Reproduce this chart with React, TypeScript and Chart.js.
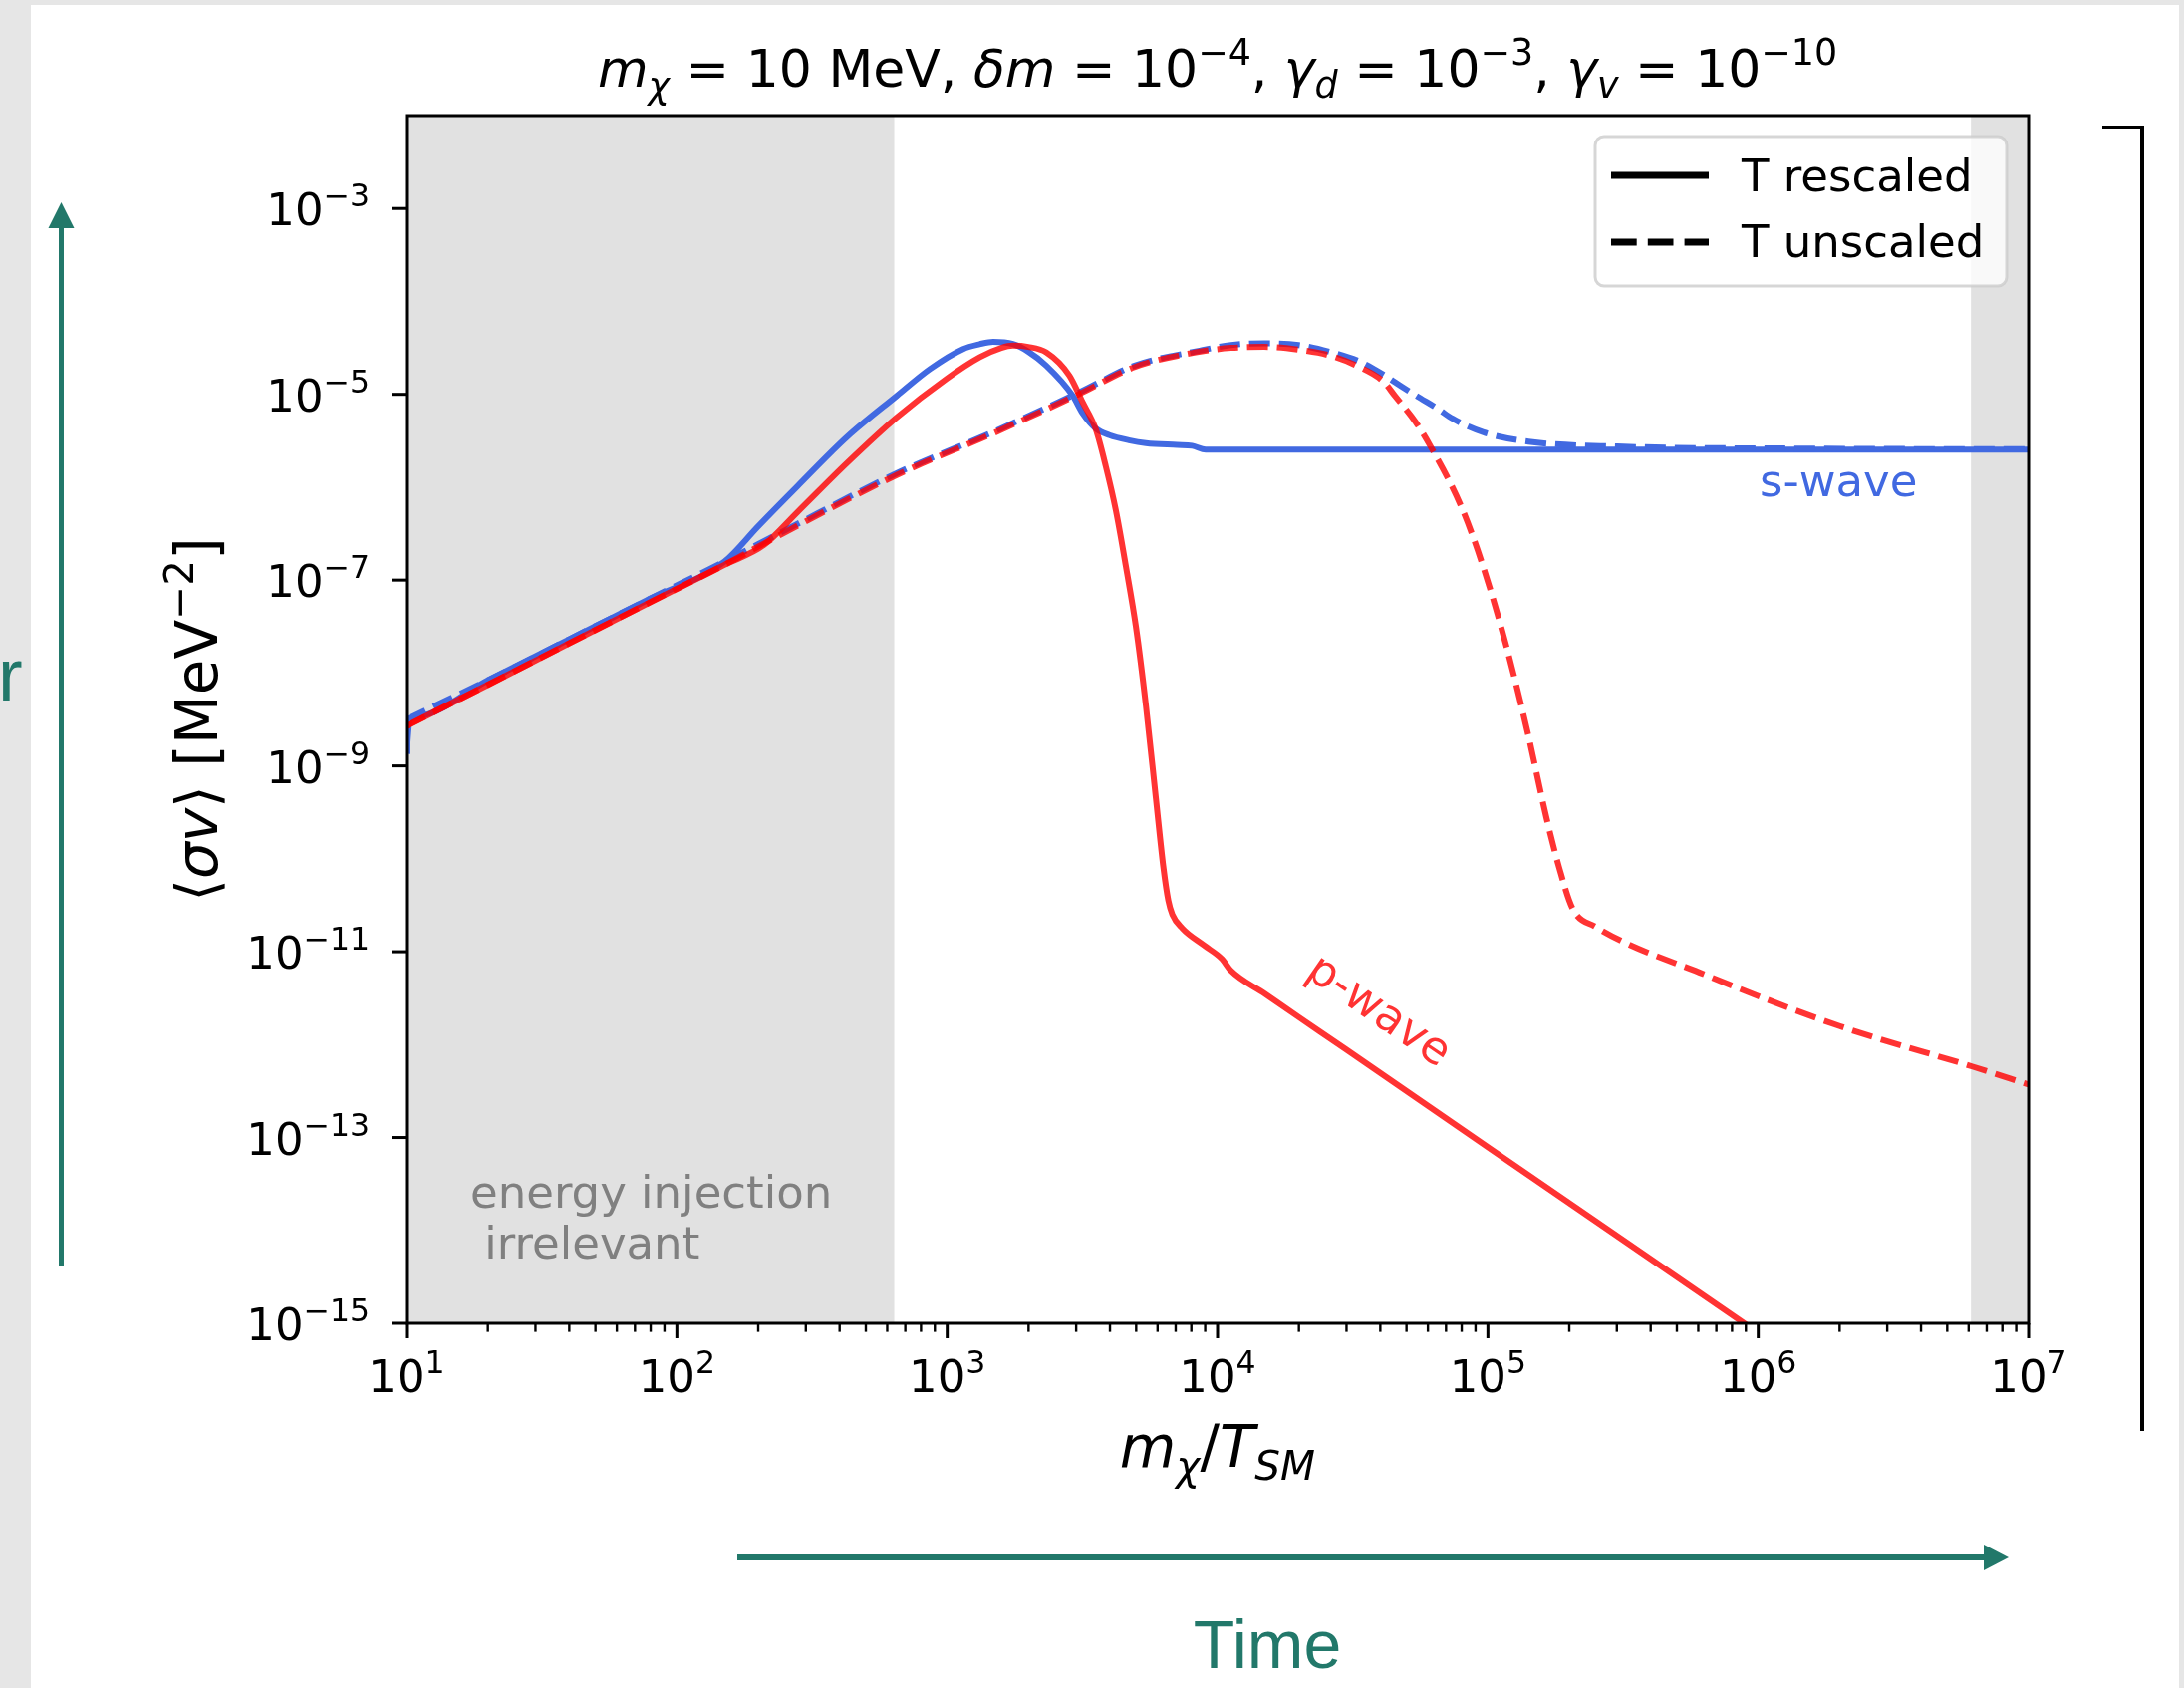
import React, { useEffect, useRef } from "react";
import { Chart, registerables } from "chart.js";

Chart.register(...registerables);

// ---------------- data ----------------
// s-wave, T rescaled (solid blue)
const sRescaledX = [10, 10.3, 11, 20, 39.8, 79.4, 150, 200, 279, 426, 650, 863, 1146, 1318, 1479, 1750, 1995, 2323, 2911, 3162, 3548, 3981, 4699, 5433, 7079, 8054, 9036, 1e5, 1e6, 1e7];
const sRescaledY = [1.35e-9, 3.16e-9, 3.4e-9, 8.34e-9, 2.29e-8, 6.28e-8, 1.58e-7, 3.8e-7, 1.02e-6, 3.47e-6, 9.6e-6, 1.87e-5, 3.08e-5, 3.47e-5, 3.68e-5, 3.48e-5, 2.88e-5, 2.04e-5, 9.7e-6, 6.31e-6, 4.27e-6, 3.63e-6, 3.2e-6, 2.98e-6, 2.85e-6, 2.79e-6, 2.54e-6, 2.54e-6, 2.54e-6, 2.54e-6];

// s-wave, T unscaled (dashed blue)
const sUnscaledX = [10, 20, 39.8, 79.4, 150, 242, 650, 1521, 3083, 4943, 8590, 11220, 14890, 19950, 25880, 33110, 41210, 48870, 56230, 65310, 74130, 96390, 141300, 300600, 1.585e6, 1e7];
const sUnscaledY = [3.16e-9, 8.34e-9, 2.29e-8, 6.28e-8, 1.58e-7, 3.24e-7, 1.41e-6, 4.07e-6, 1.05e-5, 2.04e-5, 2.95e-5, 3.39e-5, 3.55e-5, 3.39e-5, 2.88e-5, 2.29e-5, 1.62e-5, 1.17e-5, 9.1e-6, 6.98e-6, 5.46e-6, 3.89e-6, 3.09e-6, 2.74e-6, 2.6e-6, 2.56e-6];

// p-wave, T rescaled (solid red)
const pRescaledX = [10, 20, 39.8, 79.4, 150, 210, 279, 426, 650, 995, 1321, 1585, 1750, 1995, 2323, 2831, 3162, 3548, 3864, 4207, 4581, 4989, 5433, 5916, 6310, 6577, 6808, 7413, 8913, 10400, 11170, 15000, 20000, 29650, 1e5, 1e6, 1e7];
const pRescaledY = [2.69e-9, 7.46e-9, 2.07e-8, 5.74e-8, 1.46e-7, 2.39e-7, 5.37e-7, 1.82e-6, 5.62e-6, 1.47e-5, 2.51e-5, 3.16e-5, 3.34e-5, 3.24e-5, 2.83e-5, 1.59e-5, 8.32e-6, 4.17e-6, 1.66e-6, 5.62e-7, 1.41e-7, 3.16e-8, 4.47e-9, 4.47e-10, 7.94e-11, 3.55e-11, 2.51e-11, 1.78e-11, 1.17e-11, 8.32e-12, 6.31e-12, 3.5e-12, 1.97e-12, 9.0e-13, 7.87e-14, 7.87e-16, 7.87e-18];

// p-wave, T unscaled (dashed red)
const pUnscaledX = [10, 20, 39.8, 79.4, 150, 242, 650, 1521, 3083, 4943, 8299, 11220, 14890, 19950, 25880, 33110, 41210, 45290, 54080, 61380, 79980, 96390, 116700, 141300, 164400, 183700, 206100, 249500, 642700, 2.0e6, 6.22e6, 1e7];
const pUnscaledY = [2.69e-9, 7.46e-9, 2.07e-8, 5.74e-8, 1.46e-7, 3.09e-7, 1.35e-6, 3.94e-6, 1.01e-5, 1.97e-5, 2.83e-5, 3.16e-5, 3.24e-5, 3.02e-5, 2.63e-5, 2.0e-5, 1.36e-5, 9.64e-6, 5.01e-6, 2.74e-6, 6.03e-7, 1.35e-7, 2.0e-8, 2.09e-9, 2.81e-10, 7.94e-11, 2.88e-11, 1.86e-11, 5.58e-12, 1.58e-12, 5.78e-13, 3.72e-13];

// axes
const xTickExponents = [1, 2, 3, 4, 5, 6, 7];
const yTickExponents = [-15, -13, -11, -9, -7, -5, -3];
const xMinorMultipliers = [2, 3, 4, 5, 6, 7, 8, 9];
const xRange = [10, 1e7];
const yRange = [1e-15, 1e-2];
// shaded ranges (x)
const shadedRanges = [
  [10, 637],
  [6.12e6, 1e7],
];

// ---------------- styling ----------------
const W = 2192;
const H = 1694;
const BLUE = "#4169e1";
const RED = "rgba(255,0,0,0.8)";
const TEAL = "#22786a";
const FONT = '"DejaVu Sans"';

type Seg = { t: string; it?: boolean; sub?: boolean; sup?: boolean };

function fontFor(size: number, it?: boolean) {
  return `${it ? "italic " : ""}${size}px ${FONT}`;
}
function richWidth(ctx: CanvasRenderingContext2D, segs: Seg[], F: number) {
  let w = 0;
  for (const s of segs) {
    const sz = s.sub || s.sup ? F * 0.7 : F;
    ctx.font = fontFor(sz, s.it);
    w += ctx.measureText(s.t).width;
  }
  return w;
}
function drawRich(
  ctx: CanvasRenderingContext2D,
  segs: Seg[],
  x: number,
  y: number,
  F: number,
  align: "left" | "center" | "right"
) {
  const w = richWidth(ctx, segs, F);
  let cx = align === "center" ? x - w / 2 : align === "right" ? x - w : x;
  ctx.textAlign = "left";
  ctx.textBaseline = "alphabetic";
  for (const s of segs) {
    const sz = s.sub || s.sup ? F * 0.7 : F;
    ctx.font = fontFor(sz, s.it);
    const dy = s.sub ? 0.22 * F : s.sup ? -0.42 * F : 0;
    ctx.fillText(s.t, cx, y + dy);
    cx += ctx.measureText(s.t).width;
  }
}

const titleSegs: Seg[] = [
  { t: "m", it: true },
  { t: "χ", it: true, sub: true },
  { t: " = 10 MeV, " },
  { t: "δm", it: true },
  { t: " = 10" },
  { t: "−4", sup: true },
  { t: ", " },
  { t: "γ", it: true },
  { t: "d", it: true, sub: true },
  { t: " = 10" },
  { t: "−3", sup: true },
  { t: ", " },
  { t: "γ", it: true },
  { t: "v", it: true, sub: true },
  { t: " = 10" },
  { t: "−10", sup: true },
];
const yLabelSegs: Seg[] = [
  { t: "⟨" },
  { t: "σv", it: true },
  { t: "⟩ [MeV" },
  { t: "−2", sup: true },
  { t: "]" },
];
const xLabelSegs: Seg[] = [
  { t: "m", it: true },
  { t: "χ", it: true, sub: true },
  { t: "/" },
  { t: "T", it: true },
  { t: "SM", it: true, sub: true },
];

const decor = {
  id: "decor",
  beforeDraw(chart: any) {
    const ctx: CanvasRenderingContext2D = chart.ctx;
    const a = chart.chartArea;
    const xs = chart.scales.x;
    ctx.save();
    ctx.fillStyle = "#e6e6e6";
    ctx.fillRect(0, 0, W, H);
    ctx.fillStyle = "#ffffff";
    ctx.fillRect(31, 5, 2156, H - 5);
    ctx.fillStyle = "#e1e1e1";
    for (const [x0, x1] of shadedRanges) {
      const p0 = xs.getPixelForValue(x0);
      const p1 = xs.getPixelForValue(x1);
      ctx.fillRect(p0, a.top, p1 - p0, a.bottom - a.top);
    }
    ctx.restore();
  },
  afterDraw(chart: any) {
    const ctx: CanvasRenderingContext2D = chart.ctx;
    const a = chart.chartArea;
    const xs = chart.scales.x;
    const ys = chart.scales.y;
    ctx.save();

    // spines
    ctx.strokeStyle = "#000";
    ctx.lineWidth = 3;
    ctx.strokeRect(a.left, a.top, a.right - a.left, a.bottom - a.top);

    // x ticks
    ctx.fillStyle = "#000";
    for (const e of xTickExponents) {
      const px = xs.getPixelForValue(Math.pow(10, e));
      ctx.fillRect(px - 1.5, a.bottom, 3, 15);
      drawRich(ctx, [{ t: "10" }, { t: String(e), sup: true }], px, 1397, 45, "center");
      if (e < 7) {
        for (const m of xMinorMultipliers) {
          const mx = xs.getPixelForValue(m * Math.pow(10, e));
          ctx.fillRect(mx - 1.2, a.bottom, 2.4, 8.6);
        }
      }
    }
    // y ticks
    for (const e of yTickExponents) {
      const py = ys.getPixelForValue(Math.pow(10, e));
      ctx.fillRect(a.left - 15, py - 1.5, 15, 3);
      drawRich(ctx, [{ t: "10" }, { t: "−" + String(-e), sup: true }], 371, py + 17, 45, "right");
    }

    // title and axis labels
    ctx.fillStyle = "#000";
    drawRich(ctx, titleSegs, (a.left + a.right) / 2, 87, 52, "center");
    drawRich(ctx, xLabelSegs, (a.left + a.right) / 2, 1472, 58, "center");
    ctx.save();
    ctx.translate(218, (a.top + a.bottom) / 2);
    ctx.rotate(-Math.PI / 2);
    drawRich(ctx, yLabelSegs, 0, 0, 58, "center");
    ctx.restore();

    // legend
    ctx.save();
    const lx = 1601, ly = 137, lw = 413, lh = 150, r = 9;
    ctx.beginPath();
    ctx.roundRect(lx, ly, lw, lh, r);
    ctx.fillStyle = "rgba(255,255,255,0.8)";
    ctx.fill();
    ctx.strokeStyle = "rgba(204,204,204,0.8)";
    ctx.lineWidth = 3;
    ctx.stroke();
    ctx.strokeStyle = "#000";
    ctx.lineWidth = 7;
    ctx.lineCap = "butt";
    ctx.beginPath();
    ctx.moveTo(1617, 176);
    ctx.lineTo(1715, 176);
    ctx.stroke();
    ctx.setLineDash([25.7, 11.1]);
    ctx.beginPath();
    ctx.moveTo(1617, 243);
    ctx.lineTo(1715, 243);
    ctx.stroke();
    ctx.setLineDash([]);
    ctx.fillStyle = "#000";
    ctx.font = fontFor(45);
    ctx.textAlign = "left";
    ctx.textBaseline = "alphabetic";
    ctx.fillText("T rescaled", 1748, 192);
    ctx.fillText("T unscaled", 1748, 258);
    ctx.restore();

    // annotations
    ctx.font = fontFor(45);
    ctx.textAlign = "left";
    ctx.textBaseline = "alphabetic";
    ctx.fillStyle = BLUE;
    ctx.fillText("s-wave", 1766, 498);
    ctx.fillStyle = "#808080";
    ctx.fillText("energy injection", 472, 1212);
    ctx.fillText(" irrelevant", 472, 1263);
    ctx.save();
    ctx.translate(1383, 1016);
    ctx.rotate(0.602);
    ctx.fillStyle = RED;
    ctx.textAlign = "center";
    ctx.textBaseline = "middle";
    ctx.fillText("p-wave", 0, 0);
    ctx.restore();

    // external arrows / marks
    ctx.fillStyle = TEAL;
    ctx.fillRect(59, 228, 5, 1270 - 228);
    ctx.beginPath();
    ctx.moveTo(48.5, 229);
    ctx.lineTo(74.5, 229);
    ctx.lineTo(61.5, 203);
    ctx.closePath();
    ctx.fill();
    ctx.fillRect(740, 1560, 1252, 6);
    ctx.beginPath();
    ctx.moveTo(1991, 1550);
    ctx.lineTo(1991, 1576);
    ctx.lineTo(2016, 1563);
    ctx.closePath();
    ctx.fill();
    ctx.font = '68px "Liberation Sans"';
    ctx.textAlign = "center";
    ctx.fillText("Time", 1272, 1674);
    ctx.font = '74px "Liberation Sans"';
    ctx.textAlign = "left";
    ctx.fillText("r", -2, 703);

    // right bracket
    ctx.fillStyle = "#000";
    ctx.fillRect(2148, 127, 4, 1436 - 127);
    ctx.fillRect(2110, 126, 42, 3);

    ctx.restore();
  },
};

function pts(xs: number[], ys: number[]) {
  return xs.map((x, i) => ({ x, y: ys[i] }));
}

export default function App() {
  const ref = useRef<HTMLCanvasElement>(null);
  useEffect(() => {
    document.body.style.margin = "0";
    const canvas = ref.current!;
    const common = {
      pointRadius: 0,
      borderWidth: 6,
      cubicInterpolationMode: "monotone" as const,
      fill: false,
    };
    const dash = [21, 9];
    const chart = new Chart(canvas, {
      type: "line",
      data: {
        datasets: [
          { ...common, label: "p-wave T unscaled", data: pts(pUnscaledX, pUnscaledY), borderColor: RED, borderDash: dash },
          { ...common, label: "p-wave T rescaled", data: pts(pRescaledX, pRescaledY), borderColor: RED },
          { ...common, label: "s-wave T unscaled", data: pts(sUnscaledX, sUnscaledY), borderColor: BLUE, borderDash: dash },
          { ...common, label: "s-wave T rescaled", data: pts(sRescaledX, sRescaledY), borderColor: BLUE },
        ],
      },
      options: {
        responsive: false,
        animation: false,
        devicePixelRatio: 1,
        layout: { padding: { left: 408, top: 116, right: W - 2036, bottom: H - 1328 } },
        scales: {
          x: { type: "logarithmic", min: xRange[0], max: xRange[1], display: false },
          y: { type: "logarithmic", min: yRange[0], max: yRange[1], display: false },
        },
        plugins: { legend: { display: false }, tooltip: { enabled: false }, title: { display: false } },
      },
      plugins: [decor],
    } as any);
    return () => chart.destroy();
  }, []);
  return (
    <canvas
      ref={ref}
      width={W}
      height={H}
      style={{ position: "absolute", left: 0, top: 0, width: W, height: H, display: "block" }}
    />
  );
}
